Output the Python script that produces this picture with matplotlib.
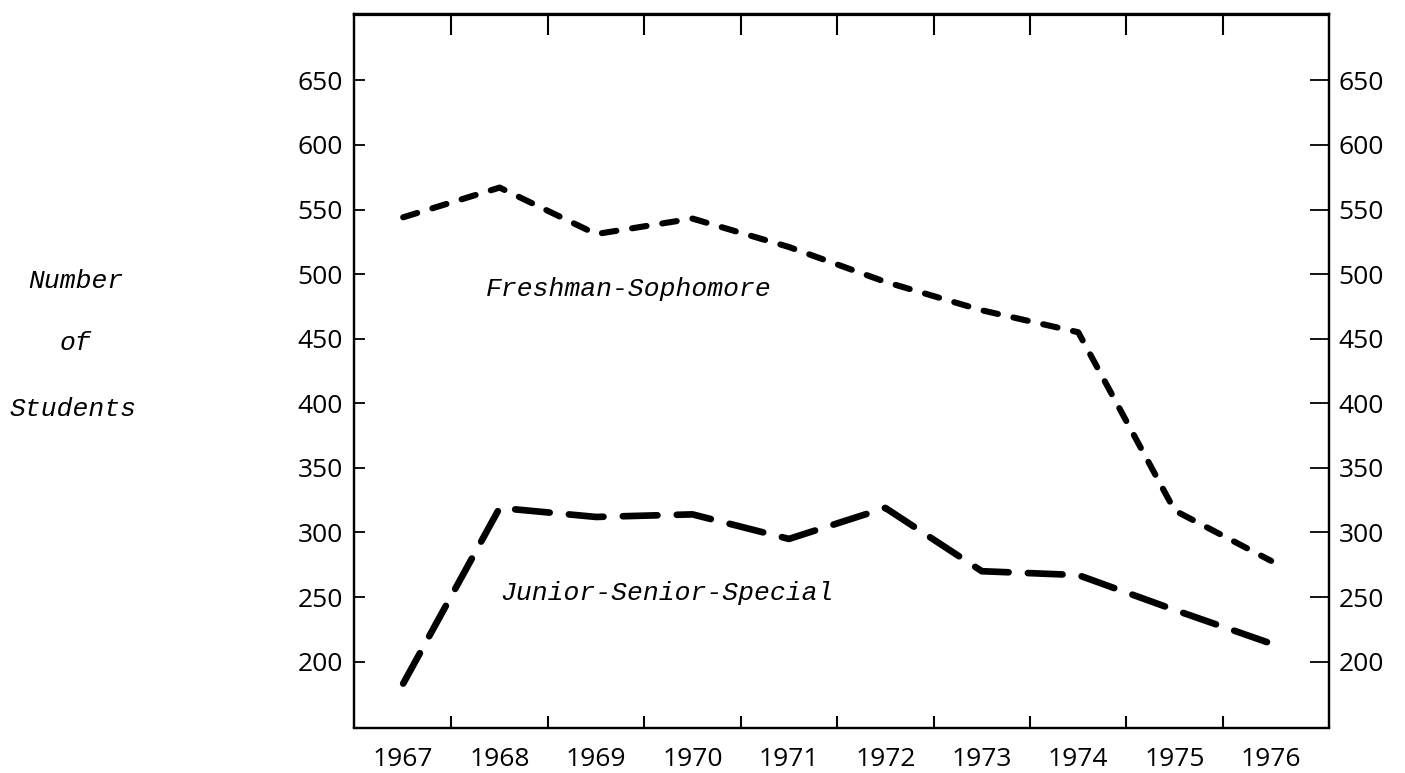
import matplotlib
matplotlib.use("Agg")
import matplotlib.pyplot as plt
from matplotlib.ticker import FixedLocator

# Enrollment by year
years = [1967, 1968, 1969, 1970, 1971, 1972, 1973, 1974, 1975, 1976]
freshman_sophomore = [544, 567, 531, 543, 521, 494, 472, 455, 317, 278]
junior_senior_special = [183, 319, 312, 314, 295, 319, 270, 267, 240, 214]
y_ticks = [200, 250, 300, 350, 400, 450, 500, 550, 600, 650]
year_labels = [str(y) for y in years]
half_years = [y + 0.5 for y in years[:-1]]

W, H = 1405, 773
fig = plt.figure(figsize=(W / 100, H / 100), dpi=100)
ax = fig.add_axes([354 / W, 1 - 727.5 / H, (1329 - 354) / W, 713 / H])

num_font = {"family": ["Open Sans", "DejaVu Sans"], "size": 19}
type_font = {"family": ["Liberation Mono", "DejaVu Sans Mono"],
             "style": "italic", "size": 19}

# the two series, dashed like the original typed chart
ax.plot(years, freshman_sophomore, color="black", lw=4.4,
        dashes=(2.4, 2.6), dash_capstyle="round", solid_joinstyle="round")
ax.plot(years, junior_senior_special, color="black", lw=4.8,
        dashes=(5.2, 2.9), dash_capstyle="round", solid_joinstyle="round")

ax.set_xlim(1966.49, 1976.6)
ax.set_ylim(149, 701)

for s in ax.spines.values():
    s.set_linewidth(1.6)

# years labelled, tick marks sit between them
ax.set_xticks(years)
ax.set_xticklabels(year_labels, fontdict=num_font)
ax.tick_params(axis="x", which="major", length=0, pad=14)
ax.xaxis.set_minor_locator(FixedLocator(half_years))
ax.tick_params(axis="x", which="minor", direction="in", length=9,
               width=1.5, top=False, bottom=True)

# top edge has its own, slightly longer marks
top = ax.secondary_xaxis("top")
top.set_xticks(half_years)
top.set_xticklabels([""] * len(half_years))
top.tick_params(direction="in", length=15, width=1.5)
top.spines["top"].set_linewidth(1.6)

ax.set_yticks(y_ticks)
ax.set_yticklabels([str(v) for v in y_ticks], fontdict=num_font)
ax.tick_params(axis="y", direction="in", length=8, width=1.3, pad=8)

ax2 = ax.twinx()
ax2.set_ylim(ax.get_ylim())
ax2.set_yticks(y_ticks)
ax2.set_yticklabels([str(v) for v in y_ticks], fontdict=num_font)
ax2.tick_params(axis="y", direction="in", length=14, width=1.3, pad=7)
for s in ax2.spines.values():
    s.set_linewidth(1.6)

ax.text(1969.34, 483, "Freshman-Sophomore", ha="center", va="baseline",
        fontdict=type_font)
ax.text(1969.73, 248, "Junior-Senior-Special", ha="center", va="baseline",
        fontdict=type_font)

# y axis title typed as three lines off to the left
fig.text(76 / W, 1 - 288 / H, "Number", ha="center", va="baseline",
         fontdict=type_font)
fig.text(75 / W, 1 - 350 / H, "of", ha="center", va="baseline",
         fontdict=type_font)
fig.text(73 / W, 1 - 416 / H, "Students", ha="center", va="baseline",
         fontdict=type_font)

fig.savefig("out.png", dpi=100, facecolor="white")
